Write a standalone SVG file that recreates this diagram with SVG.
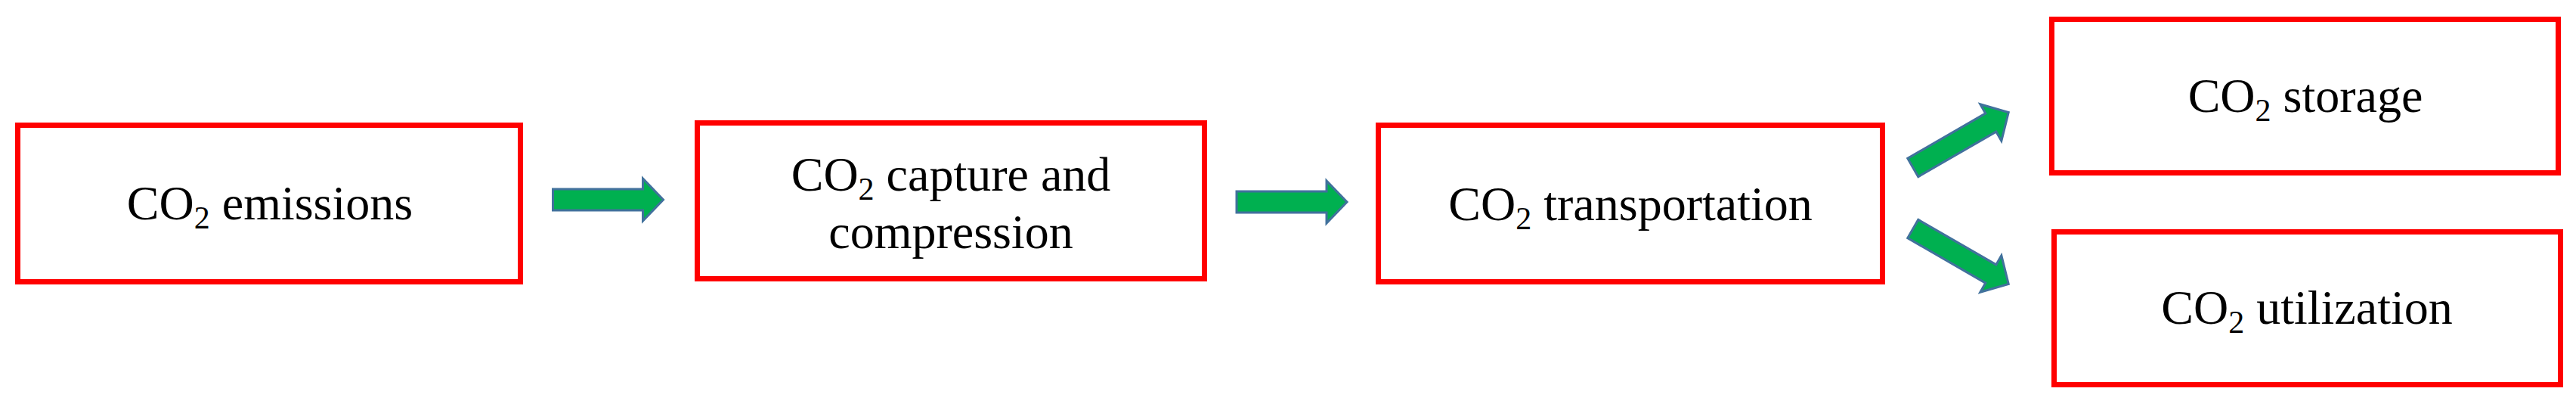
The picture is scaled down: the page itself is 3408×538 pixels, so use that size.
<svg xmlns="http://www.w3.org/2000/svg" width="3408" height="538" viewBox="0 0 3408 538">
<style>
.box{fill:#ffffff;stroke:#ff0000;stroke-width:7}
.lbl{font-family:"Liberation Serif","Times New Roman",serif;font-size:64px;fill:#000000;text-anchor:middle}
.sub{font-size:42px}
.arr{fill:#00b050;stroke:#41719c;stroke-width:3;stroke-linejoin:miter}
</style>
<defs>
<path id="arrow" d="M-73,-14 H46 V-28 L73,0 L46,28 V14 H-73 Z"/>
</defs>
<rect width="3408" height="538" fill="#ffffff"/>
<g id="n1">
<rect class="box" x="23.5" y="165.5" width="665" height="207"/>
<text class="lbl" x="357" y="290">CO<tspan class="sub" dy="12">2</tspan><tspan dy="-12"> emissions</tspan></text>
</g>
<g id="n2">
<rect class="box" x="922.5" y="162.5" width="671" height="206"/>
<text class="lbl" x="1258" y="252">CO<tspan class="sub" dy="12">2</tspan><tspan dy="-12"> capture and</tspan></text>
<text class="lbl" x="1258" y="328">compression</text>
</g>
<g id="n3">
<rect class="box" x="1823.5" y="165.5" width="667" height="207"/>
<text class="lbl" x="2157" y="291">CO<tspan class="sub" dy="12">2</tspan><tspan dy="-12"> transportation</tspan></text>
</g>
<g id="n4">
<rect class="box" x="2714.5" y="25.5" width="670" height="203"/>
<text class="lbl" x="3050" y="148">CO<tspan class="sub" dy="12">2</tspan><tspan dy="-12"> storage</tspan></text>
</g>
<g id="n5">
<rect class="box" x="2717.5" y="306.5" width="670" height="202"/>
<text class="lbl" x="3052" y="428">CO<tspan class="sub" dy="12">2</tspan><tspan dy="-12"> utilization</tspan></text>
</g>
<g id="connectors">
<use href="#arrow" class="arr" transform="translate(804.5,264)"/>
<use href="#arrow" class="arr" transform="translate(1709,267)"/>
<use href="#arrow" class="arr" transform="translate(2594,185) rotate(-30)"/>
<use href="#arrow" class="arr" transform="translate(2594,339) rotate(30)"/>
</g>
</svg>
